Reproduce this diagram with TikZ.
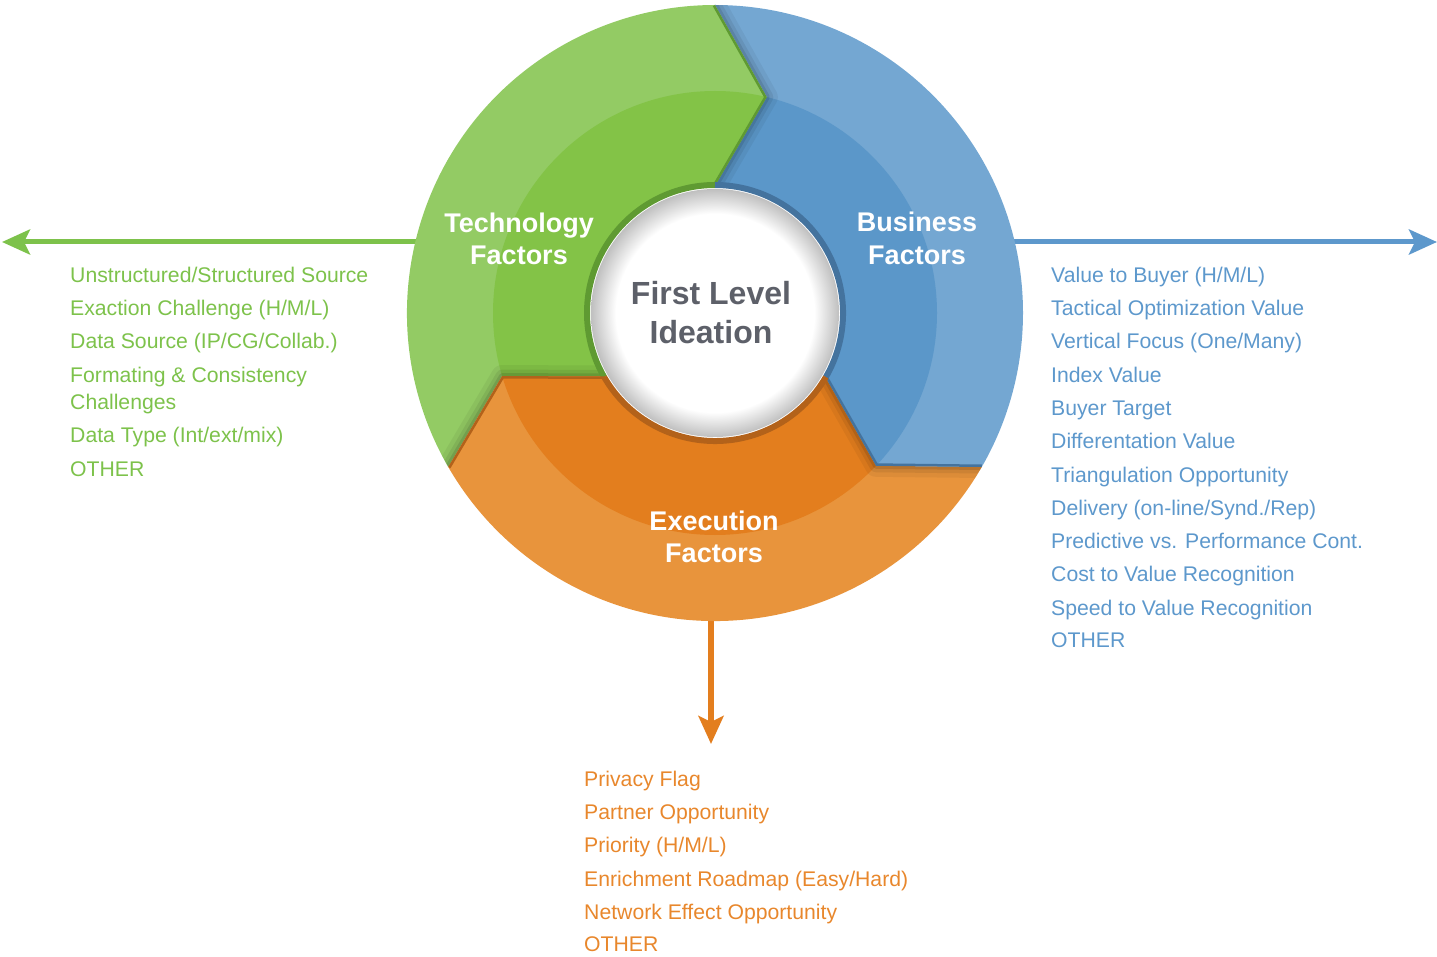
\documentclass[tikz,border=0pt]{standalone}
\usepackage{fontspec}
\setmainfont{Liberation Sans}
\usetikzlibrary{arrows.meta}
\definecolor{gL}{HTML}{93CB64}
\definecolor{gD}{HTML}{83C347}
\definecolor{gE}{HTML}{5F9A32}
\definecolor{gT}{HTML}{7DC24B}
\definecolor{bL}{HTML}{74A7D2}
\definecolor{bD}{HTML}{5B97C9}
\definecolor{bE}{HTML}{44739E}
\definecolor{bT}{HTML}{5D98CC}
\definecolor{oL}{HTML}{E8943C}
\definecolor{oD}{HTML}{E37E1E}
\definecolor{oE}{HTML}{B3621A}
\definecolor{oT}{HTML}{E8872C}
\definecolor{cT}{HTML}{5D6069}
\pgfdeclareradialshading{ctrshade}{\pgfpoint{0bp}{0bp}}{color(0bp)=(white); color(20bp)=(white); color(25bp)=(black!25); color(50bp)=(black!25)}
\def\segpath#1{(#1+120:308pt) arc[start angle=#1+120, end angle=#1, radius=308pt] -- (#1-13.5:222pt) -- (#1:127pt) arc[start angle=#1, end angle=#1+120, radius=127pt] -- (#1+106.5:222pt) -- cycle}
\tikzset{
  listitem/.style={anchor=base west, inner sep=0pt, font=\fontsize{21.2}{24}\selectfont},
  seglabel/.style={anchor=base, inner sep=0pt, text=white, font=\bfseries\fontsize{27}{32}\selectfont},
  ctrlabel/.style={anchor=base, inner sep=0pt, text=cT, font=\bfseries\fontsize{32}{39}\selectfont},
  flowarrow/.style={line width=5pt, -{Stealth[length=28pt,width=25pt,inset=6pt]}}
}
\begin{document}
\begin{tikzpicture}[x=1pt,y=1pt]
\useasboundingbox (0,0) rectangle (1437,-957);
\coordinate (C) at (715,-313);
\coordinate (gA) at (450,-242);
\coordinate (gB) at (2,-242);
\coordinate (bA) at (980,-242);
\coordinate (bB) at (1437,-242);
\coordinate (oA) at (711,-590);
\coordinate (oB) at (711,-744);
\draw[flowarrow, gT] (gA) -- (gB);
\draw[flowarrow, bT] (bA) -- (bB);
\draw[flowarrow, oD, line width=6pt] (oA) -- (oB);
\begin{scope}[shift={(C)}]
  % segments
  \foreach \e/\cl/\cd in {90/gL/gD, -30/bL/bD, 210/oL/oD} {
    \fill[\cl] \segpath{\e};
    \begin{scope}
      \clip \segpath{\e};
      \fill[\cd] (0,0) circle[radius=222pt];
    \end{scope}
  }
  % shadows cast onto the next segment
  \foreach \e in {90,-30,210} {
    \begin{scope}
      \clip \segpath{\e-120};
      \draw[black, opacity=.05, line width=22pt, line join=round] (\e:308pt) -- (\e-13.5:222pt) -- (\e:127pt);
      \draw[black, opacity=.07, line width=13pt, line join=round] (\e:308pt) -- (\e-13.5:222pt) -- (\e:127pt);
      \draw[black, opacity=.10, line width=6pt, line join=round] (\e:308pt) -- (\e-13.5:222pt) -- (\e:127pt);
    \end{scope}
  }
  % darker leading edges and inner rims
  \foreach \e/\ce in {90/gE, -30/bE, 210/oE} {
    \begin{scope}
      \clip \segpath{\e};
      \draw[\ce, line width=5pt, line join=miter] (\e:308pt) -- (\e-13.5:222pt) -- (\e:127pt);
    \end{scope}
    \draw[\ce, line width=6pt] (\e:128pt) arc[start angle=\e, end angle=\e+120, radius=128pt];
  }
  \shade[shading=ctrshade] (0,0) circle[radius=124pt];
\end{scope}
% labels on the ring
\node[seglabel] (tech1) at (519,-233) {Technology};
\node[seglabel] (tech2) at (519,-265) {Factors};
\node[seglabel] (bus1) at (917,-232) {Business};
\node[seglabel] (bus2) at (917,-265) {Factors};
\node[seglabel] (exe1) at (714,-530) {Execution};
\node[seglabel] (exe2) at (714,-562) {Factors};
\node[ctrlabel] (ctr1) at (711,-305) {First Level};
\node[ctrlabel] (ctr2) at (711,-344) {Ideation};
% technology list
\begin{scope}[every node/.style={listitem, text=gT}]
\node (g1) at (70,-282.7) {Unstructured/Structured Source};
\node (g2) at (70,-315.3) {Exaction Challenge (H/M/L)};
\node (g3) at (70,-348.5) {Data Source (IP/CG/Collab.)};
\node (g4) at (70,-382.5) {Formating \& Consistency};
\node (g5) at (70,-409.5) {Challenges};
\node (g6) at (70,-442.8) {Data Type (Int/ext/mix)};
\node (g7) at (70,-476) {OTHER};
\end{scope}
% business list
\begin{scope}[every node/.style={listitem, text=bT}]
\node (b1) at (1051,-282.7) {Value to Buyer (H/M/L)};
\node (b2) at (1051,-315.8) {Tactical Optimization Value};
\node (b3) at (1051,-348.5) {Vertical Focus (One/Many)};
\node (b4) at (1051,-382.2) {Index Value};
\node (b5) at (1051,-415.2) {Buyer Target};
\node (b6) at (1051,-448.4) {Differentation Value};
\node (b7) at (1051,-482.2) {Triangulation Opportunity};
\node (b8) at (1051,-515.2) {Delivery (on-line/Synd./Rep)};
\node (b9) at (1051,-548.4) {Predictive vs. Performance Cont.};
\node (b10) at (1051,-581.7) {Cost to Value Recognition};
\node (b11) at (1051,-615.5) {Speed to Value Recognition};
\node (b12) at (1051,-647.8) {OTHER};
\end{scope}
% execution list
\begin{scope}[every node/.style={listitem, text=oT}]
\node (o1) at (584,-786.7) {Privacy Flag};
\node (o2) at (584,-819.3) {Partner Opportunity};
\node (o3) at (584,-852.7) {Priority (H/M/L)};
\node (o4) at (584,-886) {Enrichment Roadmap (Easy/Hard)};
\node (o5) at (584,-919.3) {Network Effect Opportunity};
\node (o6) at (584,-951.7) {OTHER};
\end{scope}
\end{tikzpicture}
\end{document}
